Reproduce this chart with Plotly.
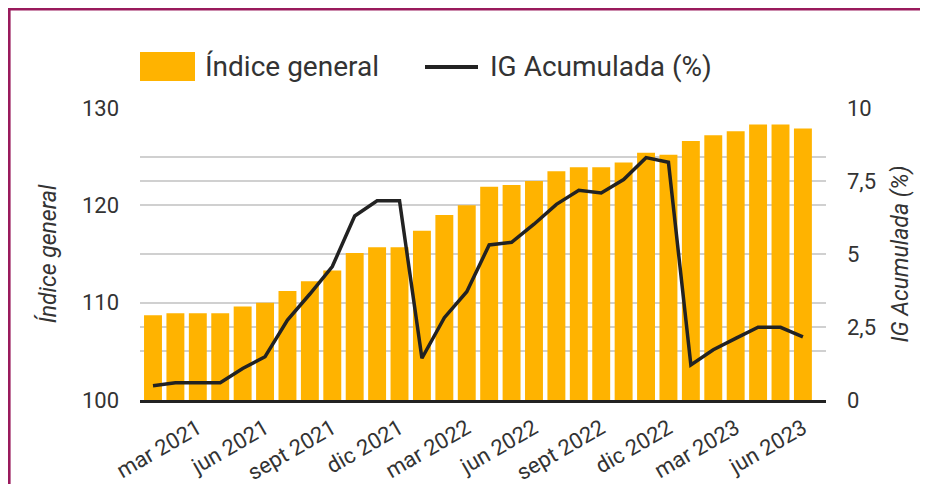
import plotly.graph_objects as go

months = [
    "ene 2021", "feb 2021", "mar 2021", "abr 2021", "may 2021", "jun 2021",
    "jul 2021", "ago 2021", "sept 2021", "oct 2021", "nov 2021", "dic 2021",
    "ene 2022", "feb 2022", "mar 2022", "abr 2022", "may 2022", "jun 2022",
    "jul 2022", "ago 2022", "sept 2022", "oct 2022", "nov 2022", "dic 2022",
    "ene 2023", "feb 2023", "mar 2023", "abr 2023", "may 2023", "jun 2023",
]
indice_general = [
    108.7, 108.9, 108.9, 108.9, 109.6, 110.0, 111.2, 112.2, 113.3, 115.1,
    115.7, 115.7, 117.4, 119.0, 120.0, 121.9, 122.1, 122.5, 123.5, 123.9,
    123.9, 124.4, 125.4, 125.2, 126.6, 127.2, 127.6, 128.3, 128.3, 127.9,
]
ig_acumulada = [
    0.49, 0.59, 0.59, 0.59, 1.08, 1.48, 2.74, 3.63, 4.57, 6.30,
    6.82, 6.82, 1.43, 2.82, 3.71, 5.31, 5.40, 6.02, 6.70, 7.18,
    7.09, 7.55, 8.30, 8.14, 1.20, 1.72, 2.11, 2.49, 2.49, 2.16,
]
x_tick_labels = months[2::3]
left_ticks = [100, 110, 120, 130]
left_minor_grid = [105, 107.5, 115, 122.5, 125]
right_ticks = [0, 2.5, 5, 7.5, 10]
right_tick_text = ["0", "2,5", "5", "7,5", "10"]

BAR = "#FFB300"
LINE = "#222222"
TXT = "#333333"
GRID = "#D0D0D0"
MAROON = "#991A5C"
FONT = "Roboto"

fig = go.Figure()
fig.add_trace(go.Bar(x=months, y=indice_general, name="Índice general",
                     marker=dict(color=BAR, line=dict(width=0)), yaxis="y"))
fig.add_trace(go.Scatter(x=months, y=ig_acumulada, name="IG Acumulada (%)",
                         mode="lines", line=dict(color=LINE, width=3.5),
                         yaxis="y2"))

# the page body adds an 8 px margin; the figure is sized to fit the window
OFF = 8
W, H = 912, 476
ml, mr, mt, mb = 132, 94, 100, 84
pw, ph = W - ml - mr, H - mt - mb


def px(x_page):
    return (x_page - OFF - ml) / pw


def py(y_page):
    return (H - mb - (y_page - OFF)) / ph


shapes = [
    # maroon frame (top and left)
    dict(type="rect", xref="paper", yref="paper", x0=px(OFF), x1=px(OFF + W),
         y0=py(OFF + 2.5), y1=py(OFF), fillcolor=MAROON, line=dict(width=0), layer="above"),
    dict(type="rect", xref="paper", yref="paper", x0=px(OFF), x1=px(OFF + 2.6),
         y0=py(OFF + H), y1=py(OFF), fillcolor=MAROON, line=dict(width=0), layer="above"),
    # legend swatches
    dict(type="rect", xref="paper", yref="paper", x0=px(140), x1=px(195), y0=py(81), y1=py(52),
         fillcolor=BAR, line=dict(width=0), layer="above"),
    dict(type="line", xref="paper", yref="paper", x0=px(425), x1=px(478), y0=py(67), y1=py(67),
         line=dict(color=LINE, width=4), layer="above"),
]
annotations = [
    dict(text="Índice general", xref="paper", yref="paper", x=px(203), y=py(66),
         xanchor="left", yanchor="middle", showarrow=False,
         font=dict(family=FONT, size=28, color=TXT)),
    dict(text="IG Acumulada (%)", xref="paper", yref="paper", x=px(488), y=py(66),
         xanchor="left", yanchor="middle", showarrow=False,
         font=dict(family=FONT, size=28, color=TXT)),
]

fig.update_layout(
    width=W, height=H,
    margin=dict(l=ml, r=mr, t=mt, b=mb, pad=0, autoexpand=False),
    paper_bgcolor="white", plot_bgcolor="white",
    showlegend=False,
    bargap=0.2,
    font=dict(family=FONT, color=TXT, size=22),
    shapes=shapes,
    annotations=annotations,
    xaxis=dict(
        type="category", automargin=False,
        range=[-0.58, 30.03],
        tickmode="array", tickvals=x_tick_labels, ticktext=x_tick_labels,
        tickangle=-30, tickfont=dict(size=22, color=TXT),
        showline=True, linecolor="#222222", linewidth=3,
        showgrid=False, ticks="", ticklabelstandoff=4,
    ),
    yaxis=dict(
        automargin=False,
        range=[100, 130], tickmode="array", tickvals=left_ticks,
        tickfont=dict(size=22, color=TXT),
        showgrid=True, gridcolor=GRID, gridwidth=2, zeroline=False,
        ticks="", ticklabelstandoff=20,
        minor=dict(tickmode="array", tickvals=left_minor_grid, showgrid=True,
                   gridcolor=GRID, gridwidth=2, ticks=""),
        title=dict(text="<i>Índice general</i>", font=dict(size=23, color=TXT), standoff=18),
    ),
    yaxis2=dict(
        automargin=False,
        range=[0, 10], overlaying="y", side="right", anchor="x",
        tickmode="array", tickvals=right_ticks, ticktext=right_tick_text,
        tickfont=dict(size=22, color=TXT),
        showgrid=False, zeroline=False, ticks="", ticklabelstandoff=20,
        title=dict(text="<i>IG Acumulada (%)</i>", font=dict(size=23, color=TXT), standoff=16),
    ),
)

fig.write_html("out.html")
